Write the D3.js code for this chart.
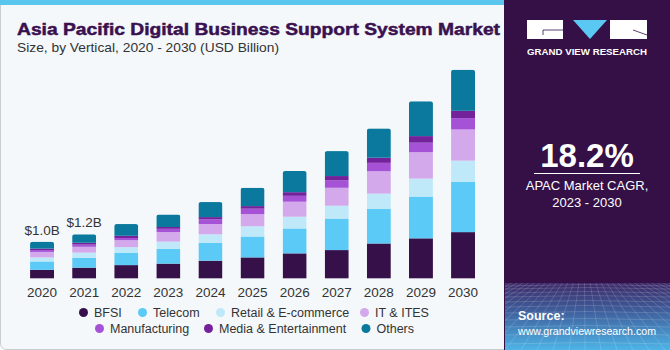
<!DOCTYPE html>
<html>
<head>
<meta charset="utf-8">
<script src="https://cdn.jsdelivr.net/npm/d3@7/dist/d3.min.js"></script>
<style>
  html, body { margin: 0; padding: 0; background: #ffffff; }
  svg { display: block; }
  text { font-family: "Liberation Sans", Arial, sans-serif; }
</style>
</head>
<body>
<svg id="chart" width="670" height="350"></svg>
<script>
// Years on the x axis
const years = ["2020","2021","2022","2023","2024","2025","2026","2027","2028","2029","2030"];

// Revenue by vertical, USD billion
const bfsi          = [0.23, 0.29, 0.36, 0.40, 0.48, 0.57, 0.68, 0.77, 0.95, 1.09, 1.26];
const telecom       = [0.23, 0.27, 0.34, 0.40, 0.49, 0.57, 0.68, 0.86, 0.95, 1.14, 1.37];
const retail        = [0.11, 0.14, 0.15, 0.20, 0.23, 0.28, 0.32, 0.35, 0.41, 0.49, 0.58];
const itItes        = [0.15, 0.16, 0.19, 0.26, 0.28, 0.33, 0.41, 0.49, 0.61, 0.72, 0.85];
const manufacturing = [0.05, 0.06, 0.06, 0.09, 0.13, 0.15, 0.16, 0.20, 0.23, 0.26, 0.31];
const media         = [0.04, 0.05, 0.06, 0.05, 0.06, 0.07, 0.10, 0.12, 0.14, 0.18, 0.20];
const others        = [0.19, 0.23, 0.32, 0.34, 0.41, 0.50, 0.58, 0.68, 0.80, 0.95, 1.12];

const seriesNames = ["BFSI", "Telecom", "Retail & E-commerce", "IT & ITES",
                     "Manufacturing", "Media & Entertainment", "Others"];
const seriesValues = [bfsi, telecom, retail, itItes, manufacturing, media, others];
const seriesColors = ["#361049", "#5ccaf6", "#bfe9f9", "#d4a9ec", "#a552d7", "#74229c", "#0a799d"];

// Years whose totals are printed above the bar
const labelledYears = ["2020", "2021"];

const svg = d3.select("#chart");
const defs = svg.append("defs");

// ---- Background panels ----
svg.append("rect").attr("x", 0).attr("y", 0).attr("width", 670).attr("height", 350).attr("fill", "#ffffff");

// light chart card with rounded lower-left corner
svg.append("path")
  .attr("d", "M0.5,0 L505,0 L505,349.5 L7,349.5 Q0.5,349.5 0.5,343 Z")
  .attr("fill", "#f4f8fb")
  .attr("stroke", "#c9ccd0")
  .attr("stroke-width", 1);

// top accent strip
svg.append("rect").attr("x", 0).attr("y", 0).attr("width", 505).attr("height", 5).attr("fill", "#5ac6ee");

// right dark panel
svg.append("rect").attr("x", 504).attr("y", 0).attr("width", 166).attr("height", 350).attr("fill", "#341046");

// gradient foot of the right panel with a perspective grid
const grad = defs.append("linearGradient").attr("id", "footGrad")
  .attr("x1", 0).attr("y1", 0).attr("x2", 0).attr("y2", 1);
grad.append("stop").attr("offset", "0%").attr("stop-color", "#3d2a68");
grad.append("stop").attr("offset", "40%").attr("stop-color", "#3f5c9a");
grad.append("stop").attr("offset", "100%").attr("stop-color", "#4db4e6");
svg.append("rect").attr("x", 505).attr("y", 283).attr("width", 165).attr("height", 67).attr("fill", "url(#footGrad)");

defs.append("clipPath").attr("id", "footClip")
  .append("rect").attr("x", 505).attr("y", 283).attr("width", 165).attr("height", 67);

const gridG = svg.append("g").attr("clip-path", "url(#footClip)")
  .attr("stroke", "#ffffff").attr("stroke-opacity", 0.22).attr("stroke-width", 0.7).attr("fill", "none");
const horizon = 283;
const hLines = [286, 289, 293, 297, 302, 307, 313, 320, 327, 335, 344];
hLines.forEach(yy => {
  gridG.append("path").attr("d", `M505,${yy} Q587,${yy - 3} 670,${yy}`);
});
const vxs = d3.range(-160, 340, 16);
vxs.forEach(vx => {
  const topX = 587 + (vx - 87) * 0.35;
  gridG.append("line").attr("x1", topX).attr("y1", horizon).attr("x2", 505 + vx).attr("y2", 350);
});

// ---- Logo ----
const logo = svg.append("g");
logo.append("rect").attr("x", 527).attr("y", 20).attr("width", 36).attr("height", 19).attr("fill", "#ffffff");
logo.append("path").attr("d", "M543,30 L563,30 M543,30 L543,35").attr("stroke", "#341046").attr("stroke-width", 0.8).attr("fill", "none");
logo.append("path").attr("d", "M573,20 L607,20 L590,39 Z").attr("fill", "#5bc8f4");
logo.append("rect").attr("x", 610).attr("y", 20).attr("width", 37).attr("height", 19).attr("fill", "#ffffff");
logo.append("path").attr("d", "M633,30 L647,35").attr("stroke", "#341046").attr("stroke-width", 0.8).attr("fill", "none");
logo.append("text").attr("x", 587).attr("y", 55).attr("text-anchor", "middle")
  .attr("fill", "#ffffff").attr("font-size", 9.5).attr("font-weight", "bold")
  .attr("textLength", 120).attr("lengthAdjust", "spacingAndGlyphs")
  .text("GRAND VIEW RESEARCH");

// ---- CAGR block ----
svg.append("text").attr("x", 587).attr("y", 167).attr("text-anchor", "middle")
  .attr("fill", "#ffffff").attr("font-size", 33).attr("font-weight", "bold")
  .text("18.2%");
svg.append("line").attr("x1", 534).attr("x2", 640).attr("y1", 173.5).attr("y2", 173.5)
  .attr("stroke", "#ffffff").attr("stroke-width", 1);
svg.append("text").attr("x", 587).attr("y", 190).attr("text-anchor", "middle")
  .attr("fill", "#ffffff").attr("font-size", 13).text("APAC Market CAGR,");
svg.append("text").attr("x", 587).attr("y", 207).attr("text-anchor", "middle")
  .attr("fill", "#ffffff").attr("font-size", 13).text("2023 - 2030");

// ---- Source ----
svg.append("text").attr("x", 518).attr("y", 320).attr("fill", "#ffffff")
  .attr("font-size", 12.5).attr("font-weight", "bold").text("Source:");
svg.append("text").attr("x", 518).attr("y", 335).attr("fill", "#ffffff")
  .attr("font-size", 11).attr("textLength", 138).attr("lengthAdjust", "spacingAndGlyphs")
  .text("www.grandviewresearch.com");

// ---- Titles ----
svg.append("text").attr("x", 17).attr("y", 34.5).attr("fill", "#3a1150")
  .attr("font-size", 17).attr("font-weight", "bold")
  .attr("textLength", 483).attr("lengthAdjust", "spacingAndGlyphs")
  .attr("stroke", "#3a1150").attr("stroke-width", 0.5)
  .text("Asia Pacific Digital Business Support System Market");
svg.append("text").attr("x", 17).attr("y", 52).attr("fill", "#333333")
  .attr("font-size", 13.5).attr("textLength", 262).attr("lengthAdjust", "spacingAndGlyphs")
  .text("Size, by Vertical, 2020 - 2030 (USD Billion)");

// ---- Scales ----
const x = d3.scaleBand().domain(years).range([21, 484.1]).paddingInner(0.43).paddingOuter(0.215);
const y = d3.scaleLinear().domain([0, 6]).range([278.3, 58.4]);

// ---- Stacked data ----
const rows = years.map((yr, i) => {
  const r = { year: yr };
  seriesNames.forEach((n, k) => { r[n] = seriesValues[k][i]; });
  return r;
});
const stacked = d3.stack().keys(seriesNames)(rows);
const totals = years.map((yr, i) => d3.sum(seriesValues, s => s[i]));

// rounded-top clip for each bar
years.forEach((yr, i) => {
  defs.append("clipPath").attr("id", "clip" + yr)
    .append("rect")
    .attr("x", x(yr)).attr("width", x.bandwidth())
    .attr("y", y(totals[i])).attr("height", y(0) - y(totals[i]) + 6)
    .attr("rx", 2.5).attr("ry", 2.5);
});

const barsG = svg.append("g");
years.forEach((yr, i) => {
  const g = barsG.append("g").attr("clip-path", `url(#clip${yr})`);
  stacked.forEach((layer, k) => {
    const d = layer[i];
    g.append("rect")
      .attr("x", x(yr))
      .attr("width", x.bandwidth())
      .attr("y", y(d[1]))
      .attr("height", y(d[0]) - y(d[1]))
      .attr("fill", seriesColors[k]);
  });
});

// ---- X axis ----
const xAxis = svg.append("g").attr("transform", `translate(0,${y(0)})`)
  .call(d3.axisBottom(x).tickSize(0).tickPadding(9));
xAxis.select(".domain").remove();
xAxis.selectAll("text").attr("font-size", 13.5).attr("fill", "#333333")
  .attr("font-family", "'Liberation Sans', Arial, sans-serif");

// ---- Total labels ----
const fmt = d3.format(".1f");
labelledYears.forEach(yr => {
  const i = years.indexOf(yr);
  svg.append("text")
    .attr("x", x(yr) + x.bandwidth() / 2)
    .attr("y", y(totals[i]) - 7)
    .attr("text-anchor", "middle")
    .attr("font-size", 13.5).attr("fill", "#333333")
    .text("$" + fmt(totals[i]) + "B");
});

// ---- Legend ----
const legendItems = [
  { k: 0, cx: 83.5, cy: 312.5 },
  { k: 1, cx: 142.5, cy: 312.5 },
  { k: 2, cx: 220.5, cy: 312.5 },
  { k: 3, cx: 364.5, cy: 312.5 },
  { k: 4, cx: 99.5, cy: 328.5 },
  { k: 5, cx: 208.5, cy: 328.5 },
  { k: 6, cx: 366, cy: 328.5 }
];
const legend = svg.append("g");
legendItems.forEach(it => {
  legend.append("circle").attr("cx", it.cx).attr("cy", it.cy).attr("r", 4.5)
    .attr("fill", seriesColors[it.k]);
  legend.append("text").attr("x", it.cx + 10.5).attr("y", it.cy + 4.5)
    .attr("font-size", 12.5).attr("fill", "#333333")
    .text(seriesNames[it.k]);
});
</script>
</body>
</html>
